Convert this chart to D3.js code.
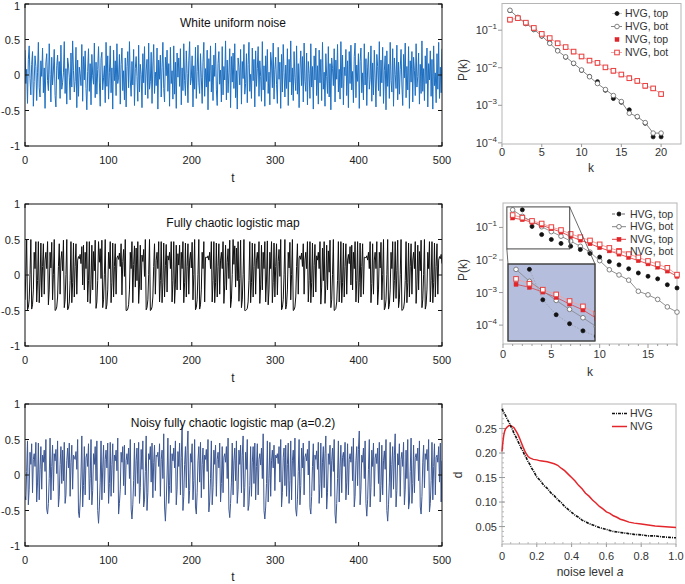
<!DOCTYPE html>
<html><head><meta charset="utf-8">
<script src="https://cdn.jsdelivr.net/npm/d3@7"></script>
<style>body{margin:0;background:#fff} text{font-family:"Liberation Sans",Arial,Helvetica,sans-serif}</style>
</head><body><svg id="c" width="685" height="584"></svg>
<script>
// ---------------- data ----------------
const tTicks=[0,100,200,300,400,500];
const ampTicks=[-1,-0.5,0,0.5,1];
const titles=["White uniform noise","Fully chaotic logistic map","Noisy fully chaotic logistic map (a=0.2)"];
// time series values (hundredths), t = 0..499
const noiseVals=[35,-12,8,-40,22,41,-5,-28,15,33,-44,-9,27,12,-36,4,46,-18,-31,20,-2,38,-25,10,-47,
17,30,-8,-22,44,1,-38,25,-14,7,36,-29,-45,13,28,-6,19,-33,42,-20,-11,3,47,-26,9,
-41,24,14,-3,-35,31,-17,48,6,-24,-9,39,-46,21,-30,11,2,-15,43,-37,26,-7,34,-19,-49,
5,37,-23,16,-42,29,-1,-13,45,-32,18,-27,8,40,-10,-44,23,32,-21,-4,13,-39,46,-16,27,
-34,3,41,-25,10,-48,35,-8,20,-29,44,-12,-3,29,-41,15,38,-22,6,-35,24,-45,12,33,-18,
47,-7,-30,19,-14,36,-43,9,26,-2,-37,42,-24,15,1,-46,30,-11,40,-28,7,22,-33,45,-20,
-9,32,-40,14,43,-26,4,-15,38,-48,21,-6,28,-31,11,46,-19,-38,25,-1,35,-23,16,-44,39,
-12,6,-34,41,-27,18,-47,31,-3,24,-16,37,-42,10,-22,44,-8,-29,34,2,-39,20,47,-14,-5,
27,-45,13,-20,39,-33,5,42,-11,-26,30,-4,-40,18,46,-30,9,-17,35,-49,23,-9,41,-24,14,
-36,28,-2,45,-21,-43,16,33,-13,7,-38,40,-28,12,-7,48,-35,21,-25,3,37,-46,26,-10,31,
-19,44,-32,6,-48,24,11,-14,36,-41,19,-5,43,-27,-12,30,-39,15,46,-23,1,-33,38,-8,22,
-45,34,-16,9,40,-30,20,-2,-37,47,-21,13,-44,27,-9,36,-26,4,-42,32,17,-18,45,-34,8,
25,-13,-40,39,-6,18,-47,29,-24,43,3,-31,14,-19,37,-43,22,-10,48,-28,10,-36,33,-4,-22,
41,-27,16,-46,7,34,-15,26,-38,45,-9,-23,31,-42,19,2,-33,44,-17,12,-48,27,-7,38,-29,
13,-41,35,-11,22,-36,46,-20,4,-44,30,-2,-26,40,-31,16,-49,24,9,-15,37,-38,21,-6,43,
-24,8,-34,47,-18,28,-42,11,-1,36,-29,20,-46,33,-12,42,-21,5,-39,26,45,-32,14,-9,30,
-47,19,38,-25,3,-35,44,-14,23,-43,10,32,-20,-6,41,-37,17,-28,35,-3,-45,29,12,-22,47,
-30,21,-11,39,-40,6,27,-49,34,-16,15,-33,46,-8,-24,37,-44,24,1,-19,42,-35,18,-27,8,
36,-14,-43,29,-4,45,-32,12,-21,40,-47,20,-10,33,-38,25,6,-29,44,-17,-2,31,-41,15,-26,
48,-23,9,-36,27,-12,38,-45,16,-7,34,-30,22,-48,41,-15,3,-39,30,-20,46,-33,11,-25,37];
const logisticVals=[-35,1,50,-49,-46,-35,1,50,-48,-42,-21,32,9,47,-38,-8,47,-39,-11,45,-31,12,44,-27,21,
32,9,47,-42,-21,32,10,46,-35,1,50,-50,-49,-45,-31,12,44,-27,21,33,6,49,-46,-35,1,
50,-49,-47,-38,-8,47,-39,-11,45,-31,12,44,-27,21,26,23,29,16,40,-14,42,-21,32,9,47,
-38,-8,47,-40,-14,42,-21,33,6,49,-47,-38,-8,47,18,37,-5,49,-46,-35,1,50,-48,-42,-21,
32,9,47,-39,-11,45,-31,12,44,-27,24,27,22,31,12,44,-28,19,36,-2,50,-50,-50,-48,-42,
-21,32,9,47,-39,15,41,-17,38,-8,47,-40,-14,42,-21,28,19,36,-2,50,-49,-46,-35,1,50,
-50,-49,-45,-31,12,44,-27,21,32,9,47,-38,-8,47,-39,-11,45,-31,13,43,-24,27,21,32,9,
47,-38,-8,47,-40,-14,42,-21,30,14,42,-21,32,9,47,-39,-11,45,-31,12,44,-27,21,32,10,
46,-35,1,50,-49,-46,-35,1,50,-48,-42,-21,32,9,47,-38,25,25,24,27,21,32,9,47,-38,
-8,47,-39,-11,45,-31,12,44,-27,21,32,9,47,-40,-14,42,-21,18,37,-5,49,-46,-35,1,50,
15,41,-17,38,-8,47,-37,-5,49,-46,-35,1,50,-50,-50,-49,-47,-38,-8,47,-39,-11,45,-31,12,
44,-27,21,32,9,47,-40,-14,42,-21,32,9,47,-38,-7,48,-42,-21,32,9,47,-39,-11,45,-31,
12,44,-28,19,36,-2,50,-49,-46,-35,1,50,-48,-42,-21,32,10,46,-35,1,50,-50,-49,-45,-31,
12,44,-27,24,27,22,31,12,44,-27,21,32,9,47,-38,-8,47,-39,-11,45,-31,13,43,-24,27,
21,32,9,47,-41,-17,38,-8,47,-40,-14,42,-21,34,4,49,-46,-35,1,50,-50,-49,-47,-38,-8,
47,-38,-8,47,-39,-11,45,-31,12,44,-27,21,29,16,40,-14,42,-21,32,9,47,-38,-8,47,-39,
-11,45,-31,12,44,-27,25,25,24,27,21,32,9,47,-39,-12,44,-27,21,32,9,47,-42,-21,32,
10,46,-35,1,50,-49,-46,-35,1,50,-48,-42,-21,32,9,47,-38,-8,47,-33,6,49,-46,-35,1,
50,-50,-49,-47,-38,-8,47,-39,-11,45,-31,12,44,-27,21,32,9,47,-40,-14,42,-21,33,6,49,
-46,-35,1,50,-48,-42,-21,32,9,47,-38,-8,47,-39,-11,45,-31,12,44,-27,21,26,23,29,16];
const noisyVals=[-30,-35,5,48,-42,-20,32,15,44,-25,22,30,12,46,-38,-10,45,-35,8,40,-20,28,18,35,5,
50,-48,-55,-40,-5,52,-35,12,42,-22,30,20,36,2,48,-45,-30,15,40,-12,35,-8,46,-40,-28,
20,38,10,45,-30,18,42,-20,28,25,22,33,8,50,-52,-60,-38,0,55,-45,-15,40,-28,25,30,
12,44,-35,-5,50,-42,-22,30,15,40,-8,48,-50,-68,-45,-10,48,-35,10,42,-25,22,35,10,45,
-40,-12,46,-30,15,44,-25,28,20,35,6,52,-55,-40,-20,32,18,40,-15,42,-28,20,30,15,38,
-5,50,-48,-62,-42,-8,45,-30,20,38,-12,46,-40,-18,36,8,48,-45,-35,5,55,-50,-25,30,22,
40,-10,45,-32,18,42,-22,28,26,32,12,44,-30,22,35,-5,58,-45,-65,-38,0,52,-40,-15,42,
-25,30,20,38,10,48,-42,-20,33,12,45,-28,25,68,-50,-30,15,40,-18,35,62,-40,-22,30,18,
44,-35,-8,50,-45,-55,-25,20,40,-10,46,-32,15,38,-20,28,22,36,5,50,-52,-38,-5,48,-42,
-18,35,15,42,-30,22,32,10,45,-38,-12,40,-25,25,30,18,40,-5,52,-48,-60,-40,-10,45,-28,
20,38,-8,48,-40,-20,35,15,42,-25,28,55,-45,-18,32,8,50,-50,-42,-15,40,-30,18,40,-12,
45,-35,12,44,-28,22,30,14,38,-5,58,-50,-62,-45,-12,48,-38,-5,46,-30,20,35,10,42,-22,
28,24,30,16,40,-10,50,-45,-25,25,38,-15,42,-30,15,45,-40,-8,48,-35,20,35,-2,52,-48,
-58,-35,5,50,-42,-15,38,10,45,-28,25,30,20,36,0,48,-46,-55,-30,12,44,-22,28,22,34,
8,46,-40,-12,45,-32,18,40,-18,30,55,-48,-25,30,15,42,-30,20,38,5,50,-55,-68,-40,-5,
48,-38,10,42,-25,25,32,12,46,-35,-10,44,-28,22,30,18,40,-8,52,-45,-30,20,40,-15,36,
62,-42,-20,28,18,38,-5,48,-40,-58,-35,8,50,-45,-18,35,12,45,-30,24,30,16,38,-12,46,
-38,-15,42,-28,20,34,8,50,-50,-65,-42,-10,46,-32,15,40,-20,28,58,-45,-22,30,14,44,-30,
22,32,12,46,-42,-20,35,-5,50,-48,-38,5,52,-40,-12,42,-25,25,30,20,38,-8,48,-45,-55,
-30,18,42,-18,30,22,36,6,50,-52,-40,-8,46,-35,12,44,-28,25,28,18,40,-10,45,-38,20];

// degree distributions (log10 P(k))
const k20=[1,2,3,4,5,6,7,8,9,10,11,12,13,14,15,16,17,18,19,20];
const r1HvgTop=[-0.48,-0.66,-0.83,-0.99,-1.16,-1.34,-1.54,-1.72,-1.89,-2.07,-2.23,-2.37,-2.60,-2.82,-2.92,-3.12,-3.31,-3.48,-3.84,-3.84];
const r1HvgBot=[-0.47,-0.66,-0.82,-0.98,-1.15,-1.35,-1.55,-1.71,-1.88,-2.06,-2.24,-2.42,-2.58,-2.74,-2.90,-3.21,-3.30,-3.46,-3.74,-3.74];
const r1NvgTop=[-0.73,-0.69,-0.81,-0.95,-1.09,-1.22,-1.34,-1.46,-1.58,-1.71,-1.80,-1.88,-2.00,-2.09,-2.19,-2.27,-2.36,-2.49,-2.56,-2.71];
const r1NvgBot=[-0.72,-0.68,-0.80,-0.94,-1.10,-1.21,-1.35,-1.45,-1.57,-1.70,-1.81,-1.87,-1.99,-2.08,-2.18,-2.28,-2.35,-2.48,-2.55,-2.70];
const k18=[1,2,3,4,5,6,7,8,9,10,11,12,13,14,15,16,17,18];
const k17=[2,3,4,5,6,7,8,9,10,11,12,13,14,15,16,17,18];
const r2HvgTop=[-0.46,-0.97,-1.22,-1.37,-1.49,-1.58,-1.68,-1.80,-1.91,-2.05,-2.15,-2.27,-2.40,-2.50,-2.58,-2.76,-2.86];
const r2HvgBot=[-0.46,-0.66,-0.82,-0.98,-1.13,-1.27,-1.42,-1.58,-1.76,-2.02,-2.30,-2.46,-2.62,-2.96,-3.07,-3.21,-3.44,-3.60];
const r2NvgTop=[-0.71,-0.76,-0.84,-0.93,-1.04,-1.14,-1.28,-1.39,-1.50,-1.62,-1.72,-1.82,-1.92,-2.02,-2.12,-2.22,-2.34,-2.50];
const r2NvgBot=[-0.62,-0.70,-0.80,-0.88,-0.99,-1.08,-1.20,-1.30,-1.40,-1.52,-1.63,-1.72,-1.82,-1.92,-2.03,-2.13,-2.24,-2.45];
const legendLabels=["HVG, top","HVG, bot","NVG, top","NVG, bot"];
const logTicks=[-1,-2,-3,-4];
// distance vs noise level
const hvgA=[0,0.01,0.02,0.03,0.04,0.05,0.06,0.07,0.08,0.09,0.10,0.11,0.12,0.13,0.14,0.15,0.16,0.17,0.18,0.20,0.22,0.24,0.26,0.28,0.30,0.32,0.34,0.36,0.38,0.40,0.42,0.44,0.46,0.48,0.50,0.53,0.56,0.60,0.64,0.68,0.72,0.76,0.80,0.84,0.88,0.92,0.96,1.0];
const hvgD=[0.290,0.283,0.277,0.269,0.263,0.255,0.248,0.239,0.233,0.225,0.218,0.210,0.204,0.196,0.190,0.182,0.177,0.169,0.164,0.151,0.144,0.134,0.128,0.119,0.113,0.105,0.099,0.091,0.085,0.079,0.073,0.069,0.063,0.060,0.056,0.052,0.048,0.044,0.040,0.038,0.036,0.034,0.033,0.031,0.031,0.029,0.028,0.027];
const nvgA=[0,0.005,0.01,0.015,0.02,0.03,0.04,0.05,0.06,0.07,0.08,0.09,0.10,0.11,0.12,0.13,0.14,0.15,0.16,0.18,0.20,0.22,0.24,0.26,0.28,0.30,0.32,0.34,0.36,0.38,0.40,0.42,0.44,0.46,0.48,0.50,0.52,0.54,0.56,0.58,0.60,0.62,0.64,0.66,0.68,0.70,0.73,0.76,0.80,0.84,0.88,0.92,0.96,1.0];
const nvgD=[0.203,0.222,0.236,0.244,0.249,0.253,0.256,0.256,0.254,0.251,0.245,0.239,0.231,0.222,0.213,0.205,0.198,0.193,0.190,0.187,0.186,0.184,0.183,0.182,0.180,0.178,0.175,0.169,0.164,0.157,0.150,0.143,0.134,0.127,0.118,0.112,0.104,0.098,0.091,0.086,0.080,0.077,0.072,0.069,0.065,0.063,0.059,0.057,0.055,0.053,0.051,0.050,0.049,0.048];
const dTicks=[0.05,0.10,0.15,0.20,0.25];
const aTicks=[0,0.2,0.4,0.6,0.8,1.0];

// ---------------- drawing ----------------
const svg=d3.select('#c');
svg.append('rect').attr('width',685).attr('height',584).attr('fill','#fff');

const xT=d3.scaleLinear().domain([0,500]).range([25,442]);
const panelTops=[4,204,404];
const colors=['#1e6fc0','#111111','#3d5893'];
const series=[noiseVals,logisticVals,noisyVals];
panelTops.forEach((top,p)=>{
  const bot=top+142;
  const y=d3.scaleLinear().domain([-1,1]).range([bot,top]);
  const g=svg.append('g');
  const cid='clipL'+p;
  svg.append('clipPath').attr('id',cid).append('rect').attr('x',25).attr('y',top).attr('width',417).attr('height',142);
  const vals=series[p];
  const n=vals.length;
  const line=d3.line().x((d,i)=>xT(i*500/(n-1))).y(d=>y(d/100));
  g.append('path').datum(vals).attr('d',line).attr('fill','none').attr('stroke',colors[p]).attr('stroke-width',1).attr('clip-path',`url(#${cid})`);
  g.append('rect').attr('x',25).attr('y',top).attr('width',417).attr('height',142).attr('fill','none').attr('stroke','#111').attr('stroke-width',1);
  tTicks.forEach(t=>{
    g.append('line').attr('x1',xT(t)).attr('x2',xT(t)).attr('y1',bot).attr('y2',bot-4).attr('stroke','#111');
    g.append('line').attr('x1',xT(t)).attr('x2',xT(t)).attr('y1',top).attr('y2',top+4).attr('stroke','#111');
    g.append('text').attr('x',xT(t)).attr('y',bot+18).attr('text-anchor','middle').attr('font-size',11).attr('fill','#222').text(t);
  });
  ampTicks.forEach(v=>{
    g.append('line').attr('x1',25).attr('x2',29).attr('y1',y(v)).attr('y2',y(v)).attr('stroke','#111');
    g.append('line').attr('x1',442).attr('x2',438).attr('y1',y(v)).attr('y2',y(v)).attr('stroke','#111');
    g.append('text').attr('x',20).attr('y',Math.max(y(v)+4,10)).attr('text-anchor','end').attr('font-size',11).attr('fill','#222').text(v);
  });
  g.append('text').attr('x',233).attr('y',Math.min(bot+36,581)).attr('text-anchor','middle').attr('font-size',12).attr('fill','#222').text('t');
  g.append('text').attr('x',233).attr('y',top+23).attr('text-anchor','middle').attr('font-size',12).attr('fill','#111').text(titles[p]);
});

function logTickLabel(g,x,y,e){
  const t=g.append('text').attr('x',x).attr('y',y).attr('text-anchor','end').attr('font-size',11).attr('fill','#333');
  t.append('tspan').text('10');
  t.append('tspan').attr('dy',-5).attr('font-size',8).text('\u2212'+Math.abs(e));
}
function circleMark(g,cx,cy,filled){
  g.append('circle').attr('cx',cx).attr('cy',cy).attr('r',filled?2:2.3)
   .attr('fill',filled?'#111':'#fff').attr('stroke',filled?'#111':'#666').attr('stroke-width',0.8);
}
function squareMark(g,cx,cy,filled){
  const s=filled?4:4.6;
  g.append('rect').attr('x',cx-s/2).attr('y',cy-s/2).attr('width',s).attr('height',s)
   .attr('fill',filled?'#e0262a':'#fff').attr('stroke',filled?'#e0262a':'#e8403f').attr('stroke-width',filled?0.5:1);
}

// ---------- R1 ----------
(function(){
  const L=502,R=681,T=3.5,B=144;
  const x=d3.scaleLinear().domain([0,22.5]).range([L,R]);
  const y=d3.scaleLog().domain([Math.pow(10,-4.03),Math.pow(10,-0.29)]).range([B,T]);
  const g=svg.append('g');
  g.append('rect').attr('x',L).attr('y',T).attr('width',R-L).attr('height',B-T).attr('fill','#fff').attr('stroke','#b5b5b5');
  [0,5,10,15,20].forEach(v=>{
    g.append('line').attr('x1',x(v)).attr('x2',x(v)).attr('y1',B).attr('y2',B+3).attr('stroke','#999');
    g.append('text').attr('x',x(v)).attr('y',B+12).attr('text-anchor','middle').attr('font-size',11).attr('fill','#333').text(v);
  });
  logTicks.forEach(e=>{
    const yy=y(Math.pow(10,e));
    g.append('line').attr('x1',L-4).attr('x2',L).attr('y1',yy).attr('y2',yy).attr('stroke','#999');
    logTickLabel(g,497,yy+4,e);
  });
  g.append('text').attr('x',591).attr('y',172).attr('text-anchor','middle').attr('font-size',12).attr('fill','#333').text('k');
  g.append('text').attr('transform','translate(467,70) rotate(-90)').attr('text-anchor','middle').attr('font-size',12).attr('fill','#333').text('P(k)');
  const ln=(arr)=>d3.line().x((d,i)=>x(k20[i])).y(d=>y(Math.pow(10,d)))(arr);
  g.append('path').attr('d',ln(r1NvgBot)).attr('fill','none').attr('stroke','#f19a9a').attr('stroke-width',0.9);
  g.append('path').attr('d',ln(r1HvgBot)).attr('fill','none').attr('stroke','#777').attr('stroke-width',0.9);
  r1HvgTop.forEach((d,i)=>circleMark(g,x(k20[i]),y(Math.pow(10,d)),true));
  r1HvgBot.forEach((d,i)=>circleMark(g,x(k20[i]),y(Math.pow(10,d)),false));
  r1NvgTop.forEach((d,i)=>squareMark(g,x(k20[i]),y(Math.pow(10,d)),true));
  r1NvgBot.forEach((d,i)=>squareMark(g,x(k20[i]),y(Math.pow(10,d)),false));
  const ly=[13.5,26.5,39.5,52.5];
  legendLabels.forEach((lab,i)=>{
    const yy=ly[i];
    if(i===1) g.append('line').attr('x1',611).attr('x2',622).attr('y1',yy).attr('y2',yy).attr('stroke','#777').attr('stroke-width',0.9);
    if(i===0) g.append('line').attr('x1',612).attr('x2',622).attr('y1',yy).attr('y2',yy).attr('stroke','#bbb').attr('stroke-width',0.8);
    if(i===3) g.append('line').attr('x1',611).attr('x2',622).attr('y1',yy).attr('y2',yy).attr('stroke','#f19a9a').attr('stroke-width',0.9);
    if(i<2) circleMark(g,617,yy,i===0); else squareMark(g,617,yy,i===2);
    g.append('text').attr('x',625).attr('y',yy+3.7).attr('font-size',10.5).attr('fill','#333').text(lab);
  });
})();

// ---------- R2 ----------
(function(){
  const L=503,R=677,T=203,B=344;
  const x=d3.scaleLinear().domain([0,18]).range([L,R]);
  const y=d3.scaleLog().domain([Math.pow(10,-4.58),Math.pow(10,-0.25)]).range([B,T]);
  const g=svg.append('g');
  g.append('rect').attr('x',L).attr('y',T).attr('width',R-L).attr('height',B-T).attr('fill','#fff').attr('stroke','#b5b5b5');
  for(let v=0;v<=18;v++){
    g.append('line').attr('x1',x(v)).attr('x2',x(v)).attr('y1',B).attr('y2',B+(v%5===0?4:2)).attr('stroke','#999');
  }
  [0,5,10,15].forEach(v=>{
    g.append('text').attr('x',x(v)).attr('y',B+14).attr('text-anchor','middle').attr('font-size',11).attr('fill','#333').text(v);
  });
  logTicks.forEach(e=>{
    const yy=y(Math.pow(10,e));
    g.append('line').attr('x1',L-4).attr('x2',L).attr('y1',yy).attr('y2',yy).attr('stroke','#999');
    logTickLabel(g,497,yy+4,e);
  });
  g.append('text').attr('x',590).attr('y',376).attr('text-anchor','middle').attr('font-size',12).attr('fill','#333').text('k');
  g.append('text').attr('transform','translate(467,270) rotate(-90)').attr('text-anchor','middle').attr('font-size',12).attr('fill','#333').text('P(k)');

  function drawSet(g,x,y,lw,sc){
    const ln=(ks,arr)=>d3.line().x((d,i)=>x(ks[i])).y(d=>y(Math.pow(10,d)))(arr);
    g.append('path').attr('d',ln(k18,r2NvgBot)).attr('fill','none').attr('stroke','#f3a0a0').attr('stroke-width',lw);
    g.append('path').attr('d',ln(k18,r2NvgTop)).attr('fill','none').attr('stroke','#e0262a').attr('stroke-width',lw*0.8);
    g.append('path').attr('d',ln(k18,r2HvgBot)).attr('fill','none').attr('stroke','#777').attr('stroke-width',lw*0.8);
    if(sc) g.append('path').attr('d',ln(k17,r2HvgTop)).attr('fill','none').attr('stroke','#888').attr('stroke-width',0.5).attr('stroke-dasharray','1.5,1.5');
    r2HvgBot.forEach((d,i)=>circleMark(g,x(k18[i]),y(Math.pow(10,d)),false));
    r2HvgTop.forEach((d,i)=>circleMark(g,x(k17[i]),y(Math.pow(10,d)),true));
    r2NvgTop.forEach((d,i)=>squareMark(g,x(k18[i]),y(Math.pow(10,d)),true));
    r2NvgBot.forEach((d,i)=>squareMark(g,x(k18[i]),y(Math.pow(10,d)),false));
  }
  drawSet(g,x,y,1,false);
  const zk=[0.4,6.9], zp=[-1.66,-0.37];
  const bx0=x(zk[0]),bx1=x(zk[1]),by0=y(Math.pow(10,zp[1])),by1=y(Math.pow(10,zp[0]));
  g.append('rect').attr('x',bx0).attr('y',by0).attr('width',bx1-bx0).attr('height',by1-by0).attr('fill','none').attr('stroke','#444').attr('stroke-width',1);
  const IL=508,IR=595,IT=264,IB=341;
  g.append('line').attr('x1',bx1).attr('y1',by0).attr('x2',IR).attr('y2',IT).attr('stroke','#444').attr('stroke-width',0.8);
  g.append('line').attr('x1',bx0).attr('y1',by1).attr('x2',IL).attr('y2',IT).attr('stroke','#444').attr('stroke-width',0.8);
  g.append('rect').attr('x',IL).attr('y',IT).attr('width',IR-IL).attr('height',IB-IT).attr('fill','#b5bedc').attr('stroke','#444').attr('stroke-width',1);
  svg.append('clipPath').attr('id','clipIn').append('rect').attr('x',IL).attr('y',IT).attr('width',IR-IL).attr('height',IB-IT);
  const xi=d3.scaleLinear().domain(zk).range([IL,IR]);
  const yi=d3.scaleLog().domain([Math.pow(10,zp[0]),Math.pow(10,zp[1])]).range([IB,IT]);
  const gi=g.append('g').attr('clip-path','url(#clipIn)');
  drawSet(gi,xi,yi,0.8,true);
  g.append('rect').attr('x',IL).attr('y',IT).attr('width',IR-IL).attr('height',IB-IT).attr('fill','none').attr('stroke','#444').attr('stroke-width',1);
  const ly=[214,226.7,239.3,251.7];
  legendLabels.forEach((lab,i)=>{
    const yy=ly[i];
    const col=i<2?(i===0?'#555':'#777'):(i===2?'#e0262a':'#f3a0a0');
    g.append('line').attr('x1',612).attr('x2',626).attr('y1',yy).attr('y2',yy).attr('stroke',col).attr('stroke-width',0.9).attr('stroke-dasharray',i===0?'3,2':null);
    if(i<2) circleMark(g,619,yy,i===0); else squareMark(g,619,yy,i===2);
    g.append('text').attr('x',630).attr('y',yy+3.7).attr('font-size',10.5).attr('fill','#333').text(lab);
  });
})();

// ---------- R3 ----------
(function(){
  const L=502,R=676,T=404,B=544;
  const x=d3.scaleLinear().domain([0,1]).range([L,R]);
  const y=d3.scaleLinear().domain([0.0144,0.3]).range([B,T]);
  const g=svg.append('g');
  g.append('rect').attr('x',L).attr('y',T).attr('width',R-L).attr('height',B-T).attr('fill','#fff').attr('stroke','#b5b5b5');
  for(let v=0.02;v<=0.295;v+=0.01){
    g.append('line').attr('x1',L).attr('x2',L+2).attr('y1',y(v)).attr('y2',y(v)).attr('stroke','#aaa').attr('stroke-width',0.8);
  }
  for(let v=0.05;v<1;v+=0.05){
    g.append('line').attr('x1',x(v)).attr('x2',x(v)).attr('y1',B).attr('y2',B-2).attr('stroke','#aaa').attr('stroke-width',0.8);
  }
  dTicks.forEach(v=>{
    g.append('line').attr('x1',L-3).attr('x2',L+3).attr('y1',y(v)).attr('y2',y(v)).attr('stroke','#999');
    g.append('text').attr('x',497).attr('y',y(v)+4).attr('text-anchor','end').attr('font-size',11).attr('fill','#333').text(v.toFixed(2));
  });
  aTicks.forEach(v=>{
    g.append('line').attr('x1',x(v)).attr('x2',x(v)).attr('y1',B).attr('y2',B+3).attr('stroke','#999');
    g.append('text').attr('x',x(v)).attr('y',B+16).attr('text-anchor','middle').attr('font-size',11).attr('fill','#333').text(v===0?'0':v.toFixed(1));
  });
  const lineH=d3.line().x((d,i)=>x(hvgA[i])).y(d=>y(d));
  const lineN=d3.line().x((d,i)=>x(nvgA[i])).y(d=>y(d));
  g.append('path').datum(nvgD).attr('d',lineN).attr('fill','none').attr('stroke','#e3262b').attr('stroke-width',1.5);
  g.append('path').datum(hvgD).attr('d',lineH).attr('fill','none').attr('stroke','#111').attr('stroke-width',1.6).attr('stroke-dasharray','3,1,1,1');
  g.append('line').attr('x1',612).attr('x2',627).attr('y1',413.5).attr('y2',413.5).attr('stroke','#111').attr('stroke-width',1.6).attr('stroke-dasharray','3,1,1,1');
  g.append('text').attr('x',630).attr('y',417).attr('font-size',10.5).attr('fill','#333').text('HVG');
  g.append('line').attr('x1',612).attr('x2',627).attr('y1',426.5).attr('y2',426.5).attr('stroke','#e3262b').attr('stroke-width',1.5);
  g.append('text').attr('x',630).attr('y',430).attr('font-size',10.5).attr('fill','#333').text('NVG');
  g.append('text').attr('transform','translate(462,475) rotate(-90)').attr('text-anchor','middle').attr('font-size',12).attr('fill','#333').text('d');
  const lab=g.append('text').attr('x',590).attr('y',576).attr('text-anchor','middle').attr('font-size',12).attr('fill','#333');
  lab.append('tspan').text('noise level ');
  lab.append('tspan').attr('font-style','italic').text('a');
})();
</script></body></html>
